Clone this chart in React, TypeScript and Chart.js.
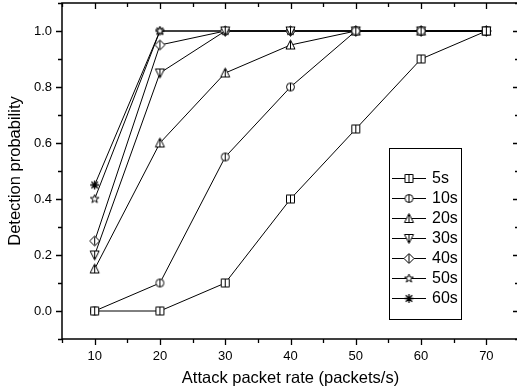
import { useEffect, useRef } from "react";
import { Chart, registerables } from "chart.js";

Chart.register(...registerables);

const packetRates = [10, 20, 30, 40, 50, 60, 70];
const s5 = [0, 0, 0.1, 0.4, 0.65, 0.9, 1.0];
const s10 = [0, 0.1, 0.55, 0.8, 1.0, 1.0, 1.0];
const s20 = [0.15, 0.6, 0.85, 0.95, 1.0, 1.0, 1.0];
const s30 = [0.2, 0.85, 1.0, 1.0, 1.0, 1.0, 1.0];
const s40 = [0.25, 0.95, 1.0, 1.0, 1.0, 1.0, 1.0];
const s50 = [0.4, 1.0, 1.0, 1.0, 1.0, 1.0, 1.0];
const s60 = [0.45, 1.0, 1.0, 1.0, 1.0, 1.0, 1.0];
const seriesLabels = ["5s", "10s", "20s", "30s", "40s", "50s", "60s"];
const seriesValues = [s5, s10, s20, s30, s40, s50, s60];
const markerKinds = ["square", "circle", "tri", "tridown", "diamond", "star", "asterisk"];
const xTicks = [10, 20, 30, 40, 50, 60, 70];
const yTicks = [0, 0.2, 0.4, 0.6, 0.8, 1.0];
const xMinorTicks = [5, 15, 25, 35, 45, 55, 65, 75];
const yMinorTicks = [-0.1, 0.1, 0.3, 0.5, 0.7, 0.9, 1.1];

const FONT = "'Liberation Sans', Arial, sans-serif";

function makeMarker(kind: string): HTMLCanvasElement {
  const s = 13;
  const c = document.createElement("canvas");
  c.width = s;
  c.height = s;
  const g = c.getContext("2d")!;
  const m = s / 2;
  const r = 4;
  g.strokeStyle = "#000";
  g.fillStyle = "#fff";
  g.lineWidth = 1;
  g.beginPath();
  let vline = false;
  switch (kind) {
    case "square":
      g.rect(m - r, m - r, 2 * r, 2 * r);
      vline = true;
      break;
    case "circle":
      g.arc(m, m, r, 0, Math.PI * 2);
      vline = true;
      break;
    case "tri":
      g.moveTo(m, m - r - 1);
      g.lineTo(m + r + 0.5, m + r);
      g.lineTo(m - r - 0.5, m + r);
      g.closePath();
      vline = true;
      break;
    case "tridown":
      g.moveTo(m, m + r + 1);
      g.lineTo(m + r + 0.5, m - r);
      g.lineTo(m - r - 0.5, m - r);
      g.closePath();
      vline = true;
      break;
    case "diamond":
      g.moveTo(m, m - r - 1);
      g.lineTo(m + r + 1, m);
      g.lineTo(m, m + r + 1);
      g.lineTo(m - r - 1, m);
      g.closePath();
      vline = true;
      break;
    case "star": {
      for (let i = 0; i < 10; i++) {
        const rr = i % 2 === 0 ? r + 0.5 : r * 0.45;
        const a = -Math.PI / 2 + (i * Math.PI) / 5;
        const px = m + rr * Math.cos(a);
        const py = m + rr * Math.sin(a);
        if (i === 0) g.moveTo(px, py);
        else g.lineTo(px, py);
      }
      g.closePath();
      break;
    }
    case "asterisk":
      break;
  }
  if (kind !== "asterisk") {
    g.fill();
    g.stroke();
  }
  if (vline) {
    g.beginPath();
    g.moveTo(m, m - r);
    g.lineTo(m, m + r);
    g.stroke();
  }
  if (kind === "asterisk") {
    g.lineWidth = 1.3;
    g.beginPath();
    for (let i = 0; i < 4; i++) {
      const a = (i * Math.PI) / 4;
      g.moveTo(m + (r + 0.5) * Math.cos(a), m + (r + 0.5) * Math.sin(a));
      g.lineTo(m - (r + 0.5) * Math.cos(a), m - (r + 0.5) * Math.sin(a));
    }
    g.stroke();
  }
  return c;
}

function zeroPad(s: any) {
  s.paddingTop = 0;
  s.paddingBottom = 0;
  s.paddingLeft = 0;
  s.paddingRight = 0;
}

export default function App() {
  const ref = useRef<HTMLCanvasElement | null>(null);

  useEffect(() => {
    if (!ref.current) return;
    const markers = markerKinds.map((k) => makeMarker(k));

    const framePlugin = {
      id: "frame",
      afterDatasetsDraw(chart: any) {
        const { ctx, chartArea: a, scales } = chart;
        const x = scales.x;
        const y = scales.y;
        ctx.save();
        ctx.strokeStyle = "#000";
        ctx.lineWidth = 1.5;
        ctx.strokeRect(a.left, a.top, a.right - a.left, a.bottom - a.top);
        ctx.lineWidth = 1.3;
        ctx.beginPath();
        const xt = [...xTicks.map((v) => [v, 6]), ...xMinorTicks.map((v) => [v, 4])];
        for (const [v, len] of xt) {
          const px = Math.round(x.getPixelForValue(v)) + 0.5;
          ctx.moveTo(px, a.bottom);
          ctx.lineTo(px, a.bottom + len);
          ctx.moveTo(px, a.top);
          ctx.lineTo(px, a.top + len);
        }
        const yt = [...yTicks.map((v) => [v, 6]), ...yMinorTicks.map((v) => [v, 4])];
        for (const [v, len] of yt) {
          const py = Math.round(y.getPixelForValue(v)) + 0.5;
          ctx.moveTo(a.left, py);
          ctx.lineTo(a.left - len, py);
          ctx.moveTo(a.right, py);
          ctx.lineTo(a.right - len, py);
        }
        ctx.stroke();

        // legend
        const bx = 389.5, by = 148.5, bw = 72, bh = 171;
        ctx.lineWidth = 1;
        ctx.fillStyle = "#fff";
        ctx.fillRect(bx, by, bw, bh);
        ctx.strokeRect(bx, by, bw, bh);
        ctx.font = `16px ${FONT}`;
        ctx.textBaseline = "middle";
        ctx.textAlign = "left";
        ctx.fillStyle = "#000";
        seriesLabels.forEach((lab, i) => {
          const yy = 178 + i * 20 + 0.5;
          ctx.beginPath();
          ctx.moveTo(392, yy);
          ctx.lineTo(426, yy);
          ctx.stroke();
          const mk = markers[i];
          ctx.drawImage(mk, 409 - mk.width / 2, yy - mk.height / 2);
          ctx.fillText(lab, 432, yy);
        });
        ctx.restore();
      },
    };

    const chart = new Chart(ref.current, {
      type: "line",
      data: {
        datasets: seriesValues.map((vals, i) => ({
          label: seriesLabels[i],
          data: packetRates.map((x, j) => ({ x, y: vals[j] })),
          borderColor: "#000",
          borderWidth: 1,
          pointStyle: markers[i] as any,
          pointRadius: 0.5,
          pointBorderWidth: 0,
          pointHoverRadius: 0.5,
          fill: false,
          tension: 0,
        })),
      },
      options: {
        responsive: false,
        animation: false,
        devicePixelRatio: 1,
        layout: { padding: { top: 3, right: 3, left: 0, bottom: 0 } },
        plugins: { legend: { display: false }, tooltip: { enabled: false } },
        scales: {
          x: {
            type: "linear",
            min: 5,
            max: 75,
            grid: { display: false, drawTicks: false },
            border: { display: false },
            afterBuildTicks: (s: any) => {
              s.ticks = xTicks.map((v) => ({ value: v }));
            },
            afterFit: (s: any) => {
              s.height = 51;
              zeroPad(s);
            },
            ticks: {
              color: "#000",
              font: { family: FONT, size: 13 },
              padding: 10,
              maxRotation: 0,
              autoSkip: false,
              callback: (v: any) => String(v),
            },
            title: {
              display: true,
              text: "Attack packet rate (packets/s)",
              color: "#000",
              font: { family: FONT, size: 16.5 },
              padding: { top: 2, bottom: 2 },
            },
          },
          y: {
            type: "linear",
            min: -0.1,
            max: 1.1,
            grid: { display: false, drawTicks: false },
            border: { display: false },
            afterBuildTicks: (s: any) => {
              s.ticks = yTicks.map((v) => ({ value: v }));
            },
            afterFit: (s: any) => {
              s.width = 62;
              zeroPad(s);
            },
            ticks: {
              color: "#000",
              font: { family: FONT, size: 13 },
              padding: 10,
              callback: (v: any) => Number(v).toFixed(1),
            },
            title: {
              display: true,
              text: "Detection probability",
              color: "#000",
              font: { family: FONT, size: 16.5 },
              padding: { top: 6, bottom: 2 },
            },
          },
        },
      },
      plugins: [framePlugin],
    });
    return () => chart.destroy();
  }, []);

  return (
    <div
      style={{
        position: "absolute",
        left: 0,
        top: 0,
        width: 517,
        height: 390,
        overflow: "hidden",
        background: "#fff",
      }}
    >
      <canvas ref={ref} width={522} height={390} style={{ display: "block", width: 522, height: 390 }} />
    </div>
  );
}
